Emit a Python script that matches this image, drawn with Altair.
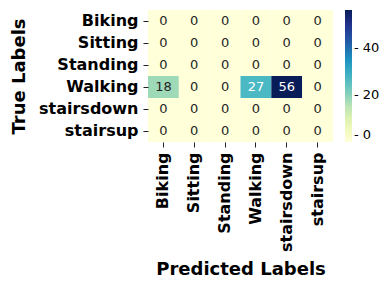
import altair as alt
import pandas as pd

labels = ["Biking", "Sitting", "Standing", "Walking", "stairsdown", "stairsup"]
matrix = [
    [0, 0, 0, 0, 0, 0],
    [0, 0, 0, 0, 0, 0],
    [0, 0, 0, 0, 0, 0],
    [18, 0, 0, 27, 56, 0],
    [0, 0, 0, 0, 0, 0],
    [0, 0, 0, 0, 0, 0],
]
ylgnbu = ["#ffffd9", "#edf8b1", "#c7e9b4", "#7fcdbb", "#41b6c4",
          "#1d91c0", "#225ea8", "#253494", "#081d58"]

rows = []
for i, t in enumerate(labels):
    for j, p in enumerate(labels):
        rows.append({"true": t, "pred": p, "value": matrix[i][j]})
df = pd.DataFrame(rows)

vmax = 56
dom = [vmax * k / 8 for k in range(9)]
font = "DejaVu Sans"

base = alt.Chart(df).encode(
    x=alt.X("pred:N", sort=labels, title="Predicted Labels",
            axis=alt.Axis(labelAngle=270, labelAlign="right", labelBaseline="middle",
                          labelFont=font, labelFontSize=16, labelFontWeight="bold",
                          labelColor="black", titleFont=font, titleFontSize=18,
                          titleFontWeight="bold", titleColor="black", titlePadding=9,
                          domain=False, tickSize=5, tickColor="#222", labelPadding=5)),
    y=alt.Y("true:N", sort=labels, title="True Labels",
            axis=alt.Axis(labelFont=font, labelFontSize=16, labelFontWeight="bold",
                          labelColor="black", titleFont=font, titleFontSize=18,
                          titleFontWeight="bold", titleColor="black", titlePadding=10,
                          domain=False, tickSize=5, tickColor="#222", labelPadding=5)),
)

rect = base.mark_rect().encode(
    color=alt.Color("value:Q",
                    scale=alt.Scale(domain=dom, range=ylgnbu, interpolate="rgb"),
                    legend=alt.Legend(title=None, orient="right", offset=12,
                                      gradientLength=132, gradientThickness=7,
                                      values=[0, 20, 40], labelFont=font,
                                      labelFontSize=13, labelColor="black",
                                      labelExpr="'- ' + datum.label",
                                      labelOffset=2, gradientStrokeWidth=0,
                                      direction="vertical"))
)

text = base.mark_text(font=font, fontSize=13).encode(
    text="value:Q",
    color=alt.condition(alt.datum.value > 25, alt.value("white"), alt.value("#262626")),
)

chart = (rect + text).properties(
    width=185, height=132,
    autosize=alt.AutoSizeParams(type="none"),
    padding={"left": 140, "top": 2, "right": 47, "bottom": 140},
).configure_view(stroke=None).configure_scale(bandPaddingInner=0)

chart.save("out.html", embed_options={"renderer": "svg", "actions": False})
